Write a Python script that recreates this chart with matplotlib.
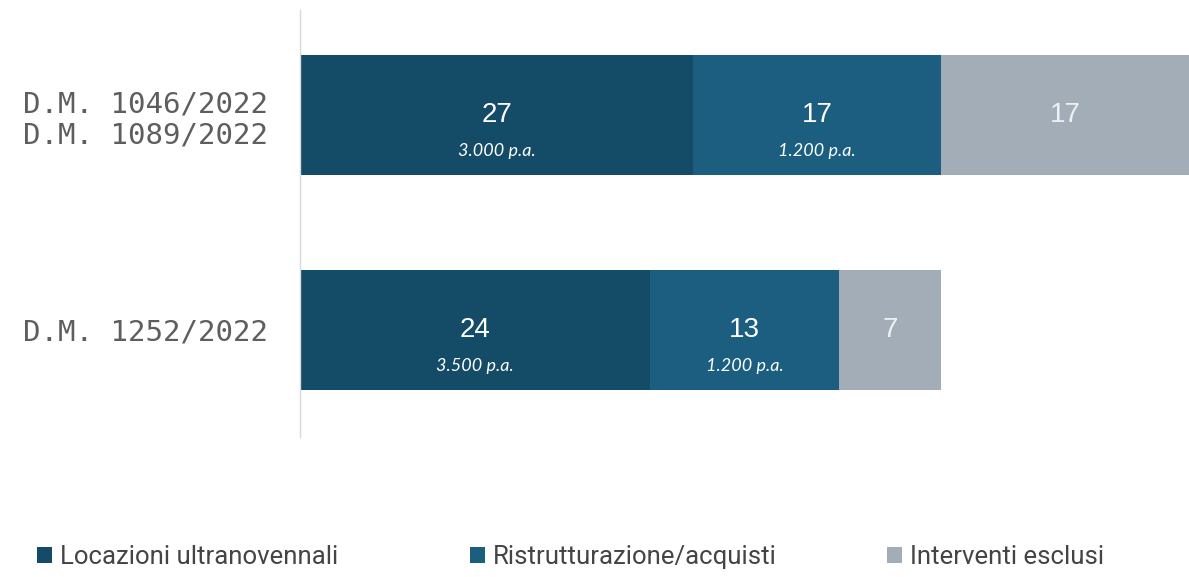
import matplotlib.pyplot as plt
import numpy as np

categorie = ["D.M. 1046/2022\nD.M. 1089/2022", "D.M. 1252/2022"]
serie = ["Locazioni ultranovennali", "Ristrutturazione/acquisti", "Interventi esclusi"]
locazioni = [27, 24]
ristrutturazione = [17, 13]
esclusi = [17, 7]
posti_locazioni = ["3.000 p.a.", "3.500 p.a."]
posti_ristrutt = ["1.200 p.a.", "1.200 p.a."]

colori = ["#144b66", "#1b5e80", "#a3adb8"]
col_testo = ["white", "white", "#eef1f4"]

fig = plt.figure(figsize=(11.89, 5.77), dpi=100)
ax = fig.add_axes([0.2523, 0.2426, 0.7477, 0.7401])

y = np.arange(len(categorie))
valori = [locazioni, ristrutturazione, esclusi]
sub = [posti_locazioni, posti_ristrutt, None]
left = np.zeros(len(categorie))
barre = []
for i, vals in enumerate(valori):
    vals = np.array(vals)
    b = ax.barh(y, vals, left=left, height=0.558, color=colori[i], label=serie[i])
    barre.append(b)
    for j, v in enumerate(vals):
        xc = left[j] + v / 2
        ax.annotate(str(v), (xc, y[j]), xytext=(0, 0), textcoords="offset points",
                    ha="center", va="center", fontsize=20, color=col_testo[i],
                    family="Liberation Sans")
        if sub[i] is not None:
            ax.annotate(sub[i][j], (xc, y[j]), xytext=(0, -26), textcoords="offset points",
                        ha="center", va="center", fontsize=13, style="italic",
                        color="white", family="Lato")
    left += vals

ax.set_xlim(0, 61)
ax.set_ylim(1.5, -0.49)
ax.set_yticks(y)
ax.set_yticklabels(categorie, family="DejaVu Sans Mono", fontsize=21, color="#5e5e5e",
                   linespacing=1.15)
ax.tick_params(axis="y", length=0, pad=23)
ax.set_xticks([])
for s in ["top", "right", "bottom"]:
    ax.spines[s].set_visible(False)
ax.spines["left"].set_color("#d9d9d9")
ax.spines["left"].set_linewidth(1)

# legenda: tre voci piazzate a mano
pos_x = [37 / 1189, 470 / 1189, 887 / 1189]
for b, nome, px in zip(barre, serie, pos_x):
    fig.legend([b], [nome], loc="center left", bbox_to_anchor=(px, 0.035), frameon=False,
               prop={"family": "Roboto", "size": 18.5}, handlelength=0.6, handleheight=0.6,
               handletextpad=0.3, borderpad=0, borderaxespad=0, labelcolor="#444444")

fig.savefig("out.png", dpi=100)
